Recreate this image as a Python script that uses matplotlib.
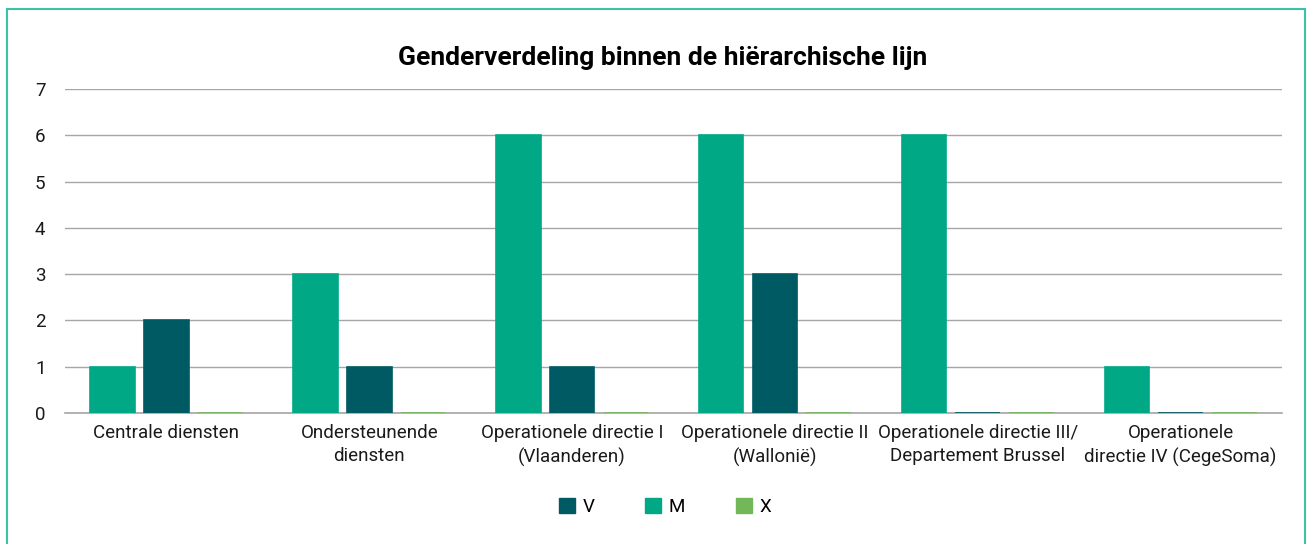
import numpy as np
import matplotlib.pyplot as plt
from matplotlib.patches import Rectangle

# ---------------------------------------------------------
# Data
# ---------------------------------------------------------

categories = [
    "Centrale diensten",
    "Ondersteunende\ndiensten",
    "Operationele directie I\n(Vlaanderen)",
    "Operationele directie II\n(Wallonië)",
    "Operationele directie III/\nDepartement Brussel",
    "Operationele\ndirectie IV (CegeSoma)",
]
m_values = [1, 3, 6, 6, 6, 1]
v_values = [2, 1, 1, 3, 0, 0]
x_values = [0, 0, 0, 0, 0, 0]

col_v = "#005A64"
col_m = "#00A886"
col_x = "#72B858"

plt.rcParams["font.family"] = ["Roboto", "DejaVu Sans"]

# ---------------------------------------------------------
# Plot
# ---------------------------------------------------------

fig = plt.figure(figsize=(13.13, 5.44), dpi=100)
ax = fig.add_axes([65 / 1313, 1 - 413 / 544, 1217 / 1313, 324 / 544])

x = np.arange(len(categories))
w = 0.22
off = 0.265
ax.bar(x - off, m_values, w, color=col_m, edgecolor=col_m, linewidth=1.2, zorder=3)
ax.bar(x, v_values, w, color=col_v, edgecolor=col_v, linewidth=1.2, zorder=3)
ax.bar(x + off, x_values, w, color=col_x, edgecolor=col_x, linewidth=1.2, zorder=3)

ax.set_xlim(-0.5, len(categories) - 0.5)
ax.set_ylim(0, 7)
ax.set_yticks(range(0, 8))
ax.yaxis.grid(True, color="#A6A6A6", linewidth=1.0, zorder=0)
ax.set_axisbelow(True)
for s in ["top", "right", "left"]:
    ax.spines[s].set_visible(False)
ax.spines["bottom"].set_color("#A6A6A6")
ax.spines["bottom"].set_linewidth(1.2)
ax.spines["bottom"].set_zorder(2)
ax.tick_params(axis="both", length=0, labelsize=13.5, colors="#1a1a1a")
ax.tick_params(axis="x", pad=8)
ax.tick_params(axis="y", pad=14)
ax.set_xticks(x)
ax.set_xticklabels(categories, linespacing=1.35)

fig.suptitle("Genderverdeling binnen de hiërarchische lijn", x=663 / 1313, y=1 - 58 / 544,
             va="center", fontsize=19, fontweight="bold")

handles = [Rectangle((0, 0), 1, 1, color=c) for c in (col_v, col_m, col_x)]
fig.legend(handles, ["V", "M", "X"], loc="center", bbox_to_anchor=(665 / 1313, 1 - 507 / 544),
           ncol=3, frameon=False, fontsize=13.5, handlelength=0.85, handleheight=0.85,
           handletextpad=0.4, columnspacing=2.7)

fig.patches.append(Rectangle((7 / 1313, -0.05), 1298 / 1313, 1.05 - 9 / 544,
                             transform=fig.transFigure, fill=False,
                             edgecolor="#3EC1A5", linewidth=1.5))

fig.savefig("out.png", dpi=100)
